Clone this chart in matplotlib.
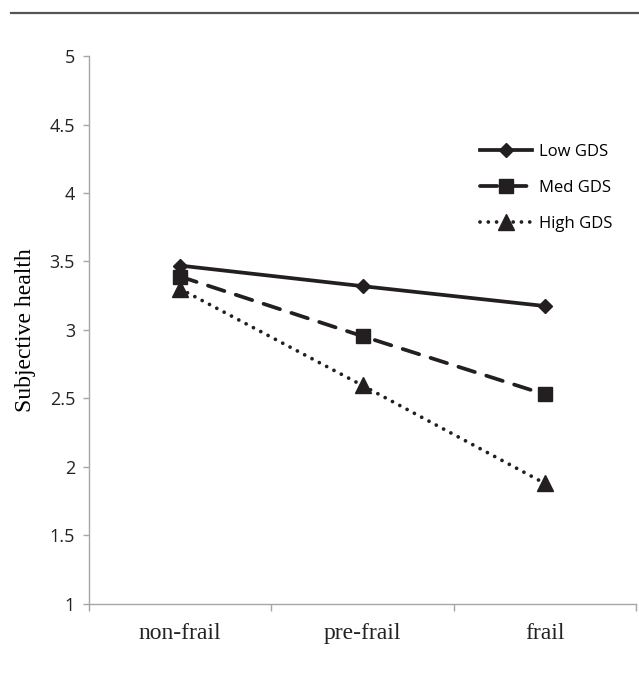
import matplotlib.pyplot as plt
from matplotlib.lines import Line2D

# frailty groups and mean subjective health per GDS level
categories = ['non-frail', 'pre-frail', 'frail']
low_gds = [3.47, 3.32, 3.175]
med_gds = [3.39, 2.955, 2.53]
high_gds = [3.30, 2.595, 1.88]
y_ticks = [1, 1.5, 2, 2.5, 3, 3.5, 4, 4.5, 5]
y_tick_labels = ['1', '1.5', '2', '2.5', '3', '3.5', '4', '4.5', '5']

ink = '#231f20'
axis_grey = '#a6a6a6'

fig = plt.figure(figsize=(6.39, 6.74), dpi=100)
ax = fig.add_axes([0.1393, 0.1039, 0.8560, 0.8130])

x = range(len(categories))
lw = 2.7
ax.plot(x, low_gds, color=ink, lw=lw, ls='-', marker='D', ms=7, label='Low GDS')
ax.plot(x, med_gds, color=ink, lw=lw, ls=(0, (4.6, 3.2)), marker='s', ms=10.5,
        dash_capstyle='round', label='Med GDS')
ax.plot(x, high_gds, color=ink, lw=lw, ls=(0, (0.01, 2.2)), marker='^', ms=11.5,
        dash_capstyle='round', label='High GDS')

ax.set_xlim(-0.5, 2.5)
ax.set_ylim(1, 5)
ax.set_yticks(y_ticks)
ax.set_yticklabels(y_tick_labels, family='Open Sans', fontsize=13, color='#222222')
ax.set_xticks([-0.5, 0.5, 1.5, 2.5])
ax.set_xticklabels([])
ax.set_xticks([0, 1, 2], minor=True)
ax.set_xticklabels(categories, minor=True, family='Liberation Serif', fontsize=17, color='#222222')
ax.tick_params(axis='x', which='minor', length=0, pad=14)
ax.tick_params(axis='x', which='major', length=5, color=axis_grey, width=1)
ax.tick_params(axis='y', length=4, color=axis_grey, width=1, pad=6)

for side in ['top', 'right']:
    ax.spines[side].set_visible(False)
for side in ['left', 'bottom']:
    ax.spines[side].set_color(axis_grey)
    ax.spines[side].set_linewidth(1)

ax.set_ylabel('Subjective health', family='Liberation Serif', fontsize=17, labelpad=10)

leg = ax.legend(loc='upper right', bbox_to_anchor=(0.985, 0.867), frameon=False,
                handlelength=3.1, numpoints=1, labelspacing=1.2,
                prop={'family': 'Open Sans', 'size': 12}, handletextpad=0.45)

# rule along the top of the page
fig.add_artist(Line2D([0.017, 1.0], [0.981, 0.981], color='#555555', lw=1.6))

fig.savefig('out.png', dpi=100)
